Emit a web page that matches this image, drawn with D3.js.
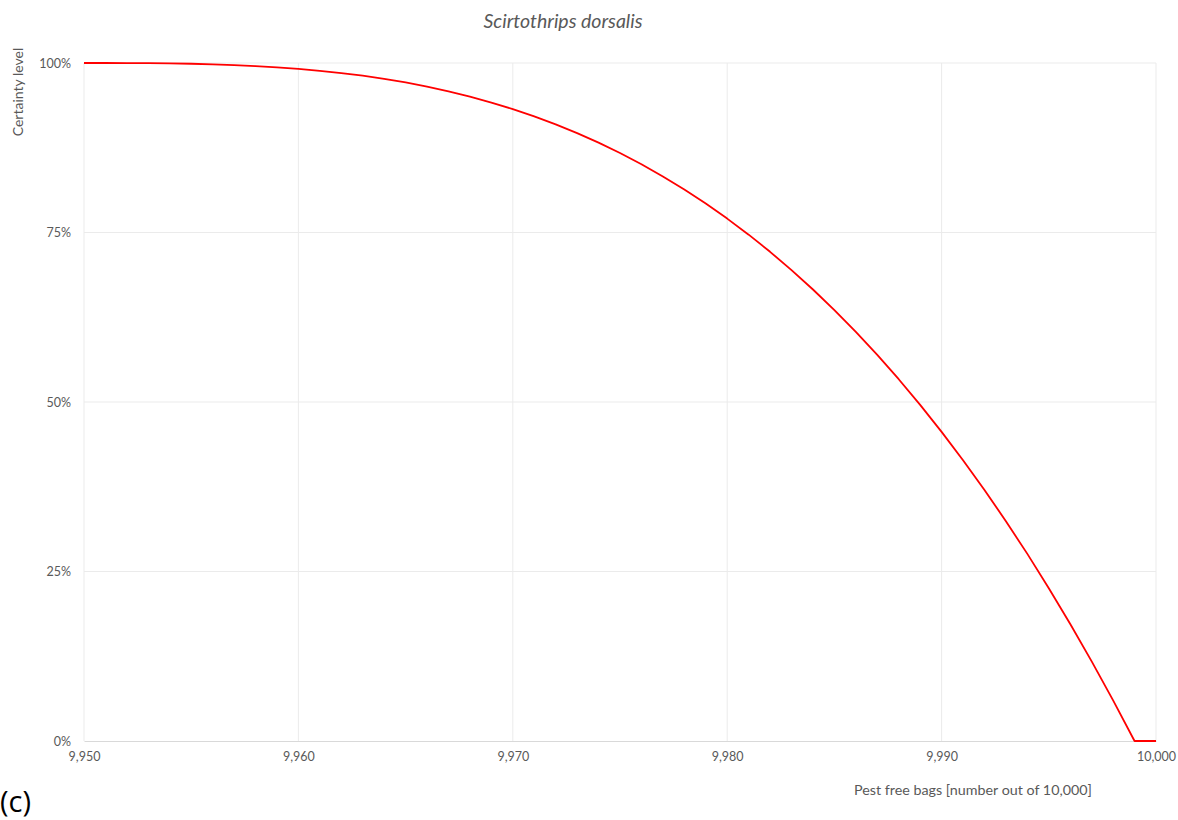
<!DOCTYPE html>
<html>
<head>
<meta charset="utf-8">
<script src="https://cdn.jsdelivr.net/npm/d3@7"></script>
<style>
  html, body { margin: 0; padding: 0; background: #fff; }
  svg { display: block; font-family: Lato, "Open Sans", sans-serif; }
</style>
</head>
<body>
<svg id="chart" width="1178" height="820"></svg>
<script>
// Data
const bags = [9950,9951,9952,9953,9954,9955,9956,9957,9958,9959,
  9960,9961,9962,9963,9964,9965,9966,9967,9968,9969,
  9970,9971,9972,9973,9974,9975,9976,9977,9978,9979,
  9980,9981,9982,9983,9984,9985,9986,9987,9988,9989,
  9990,9991,9992,9993,9994,9995,9996,9997,9998,9999,10000];
const certainty = [100,100,99.99,99.98,99.95,99.89,99.8,99.69,99.55,99.36,
  99.12,98.85,98.52,98.13,97.67,97.13,96.52,95.82,95.04,94.17,
  93.2,92.13,90.95,89.66,88.25,86.72,85.06,83.27,81.34,79.27,
  77.05,74.68,72.15,69.45,66.59,63.56,60.34,56.94,53.36,49.58,
  45.6,41.42,37.03,32.42,27.6,22.54,17.26,11.75,6.0,0,0];
const xTicks = [9950,9960,9970,9980,9990,10000];
const yTicks = [0,25,50,75,100];
const title = "Scirtothrips dorsalis";
const yTitle = "Certainty level";
const xTitle = "Pest free bags [number out of 10,000]";
const panel = "(c)";

const svg = d3.select("#chart");
const m = {left: 84, right: 1156, top: 63, bottom: 741};
const x = d3.scaleLinear().domain([9950, 10000]).range([m.left, m.right]);
const y = d3.scaleLinear().domain([0, 100]).range([m.bottom, m.top]);
const textCol = "#595959";

// gridlines
svg.append("g").selectAll("line.h").data(yTicks.filter(d => d > 0)).join("line")
  .attr("x1", m.left).attr("x2", m.right)
  .attr("y1", d => y(d)).attr("y2", d => y(d))
  .attr("stroke", "#ebebeb").attr("stroke-width", 1);
svg.append("g").selectAll("line.v").data(xTicks).join("line")
  .attr("x1", d => x(d)).attr("x2", d => x(d))
  .attr("y1", m.top).attr("y2", m.bottom)
  .attr("stroke", "#ebebeb").attr("stroke-width", 1);

// x axis
const xAxis = d3.axisBottom(x).tickValues(xTicks).tickSize(0).tickPadding(11)
  .tickFormat(d3.format(","));
const gx = svg.append("g").attr("transform", `translate(0,${m.bottom})`).call(xAxis);
gx.select(".domain").attr("stroke", "#d9d9d9");
gx.selectAll("text").attr("fill", textCol).style("font-size", "12.5px").style("font-family", "Lato, sans-serif");

// y axis
const yAxis = d3.axisLeft(y).tickValues(yTicks).tickSize(0).tickPadding(13)
  .tickFormat(d => d + "%");
const gy = svg.append("g").attr("transform", `translate(${m.left},0)`).call(yAxis);
gy.select(".domain").remove();
gy.selectAll("text").attr("fill", textCol).style("font-size", "12.5px").style("font-family", "Lato, sans-serif");

// line
const line = d3.line().x((d, i) => x(bags[i])).y(d => y(d));
svg.append("path").datum(certainty)
  .attr("d", line).attr("fill", "none")
  .attr("stroke", "#ff0000").attr("stroke-width", 1.8)
  .attr("stroke-linejoin", "round");

// titles
svg.append("text").attr("x", 563).attr("y", 28).attr("text-anchor", "middle")
  .attr("fill", textCol).style("font-size", "19.5px").style("font-style", "italic")
  .text(title);
svg.append("text").attr("transform", "translate(23,92) rotate(-90)")
  .attr("text-anchor", "middle").attr("fill", textCol).style("font-size", "14px")
  .text(yTitle);
svg.append("text").attr("x", 973).attr("y", 795).attr("text-anchor", "middle")
  .attr("fill", textCol).style("font-size", "14.3px")
  .text(xTitle);
svg.append("text").attr("x", 0).attr("y", 812)
  .attr("fill", "#000").style("font-size", "29px").style("font-family", "'Open Sans', sans-serif")
  .text(panel);
</script>
</body>
</html>
